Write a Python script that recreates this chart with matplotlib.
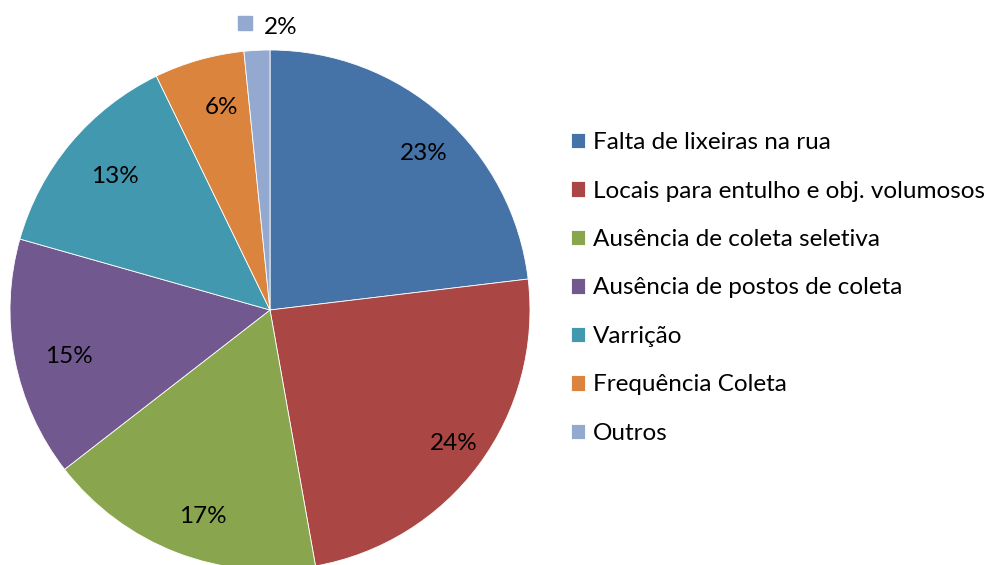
import numpy as np
import matplotlib
matplotlib.use('Agg')
import matplotlib.pyplot as plt

plt.rcParams['font.family'] = ['Lato', 'DejaVu Sans']

categorias = ['Falta de lixeiras na rua',
              'Locais para entulho e obj. volumosos',
              'Ausência de coleta seletiva',
              'Ausência de postos de coleta',
              'Varrição',
              'Frequência Coleta',
              'Outros']
valores = [23.1, 24.1, 17.3, 14.9, 13.4, 5.6, 1.6]
cores = ['#4572A7', '#AA4643', '#89A54E', '#71588F', '#4198AF', '#DB843D', '#93A9CF']

W, H = 994, 565
fig = plt.figure(figsize=(W/100, H/100), dpi=100)
cx, cy, r = 270, 310, 260
ax = fig.add_axes([(cx-r)/W, (H-cy-r)/H, 2*r/W, 2*r/H])

fs = 17.5
wedges, txt = ax.pie(valores, colors=cores, startangle=90, counterclock=False,
                     radius=1, wedgeprops=dict(edgecolor='white', linewidth=0.6))
ax.set_xlim(-1, 1)
ax.set_ylim(-1, 1)
ax.axis('off')
for w in wedges:
    w.set_clip_on(False)

tot = sum(valores)
for i, w in enumerate(wedges):
    ang = np.radians((w.theta1 + w.theta2) / 2)
    lab = '%d%%' % round(valores[i] / tot * 100)
    if i < len(wedges) - 1:
        d = 0.83
        ax.text(d*np.cos(ang) + 0.04, d*np.sin(ang) - 0.02, lab, ha='center', va='center', fontsize=fs)
    else:
        # etiqueta externa com chave da legenda
        x0, y0 = 1.1*np.cos(ang), 1.1*np.sin(ang)
        ax.text(x0 + 0.03, y0 - 0.012, lab, ha='left', va='center', fontsize=fs, clip_on=False)
        ax.plot([x0 - 0.04], [y0 + 0.005], 's', ms=10, color=cores[i], clip_on=False)

fig.legend(wedges, categorias, loc='center left', bbox_to_anchor=(561/W, 1 - 288/H),
           frameon=False, fontsize=fs, handlelength=0.6, handleheight=0.6,
           handletextpad=0.3, labelspacing=1.13, borderaxespad=0)

fig.savefig('out.png', dpi=100)
